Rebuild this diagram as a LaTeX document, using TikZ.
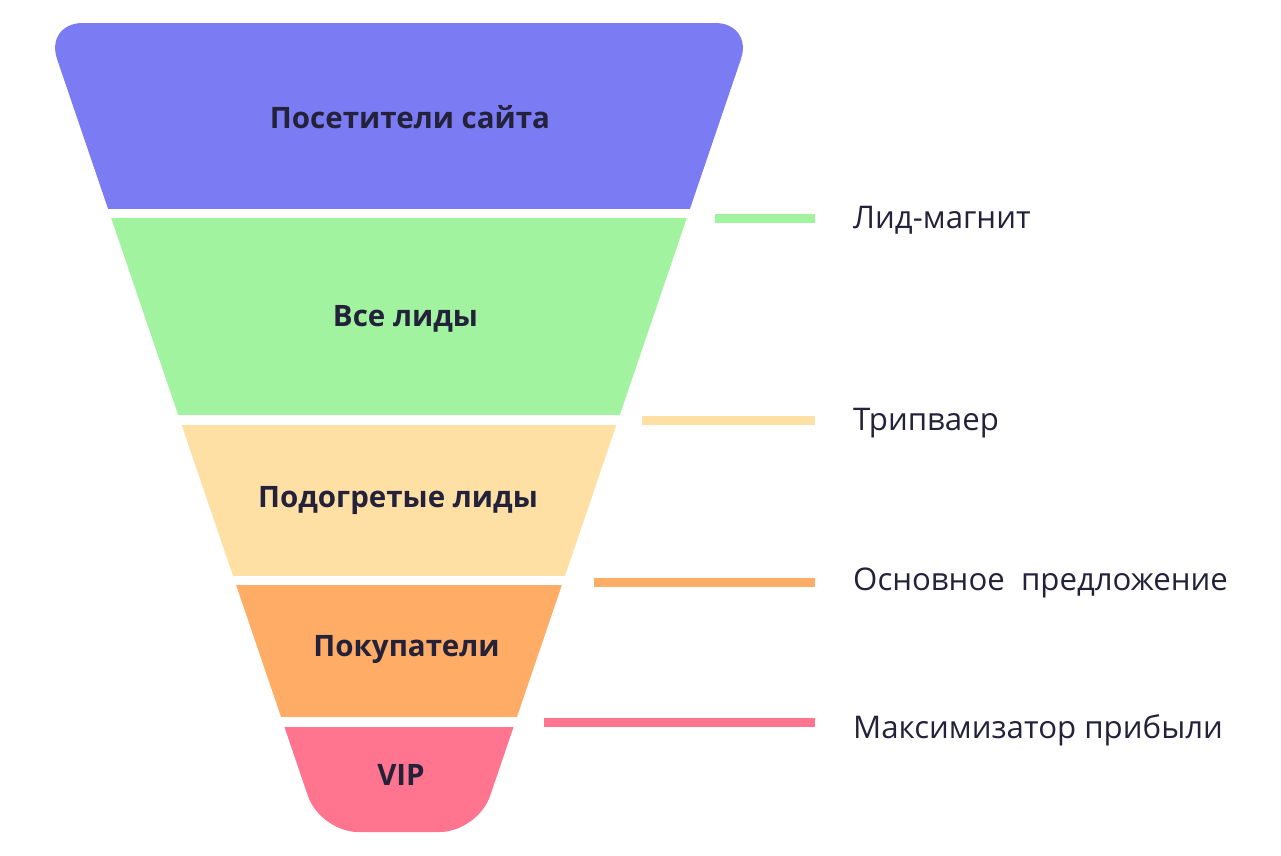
\documentclass[tikz,border=0pt]{standalone}
\usepackage{fontspec}
\setmainfont{Open Sans}
\definecolor{cA}{HTML}{7B7BF3}
\definecolor{cB}{HTML}{A2F3A0}
\definecolor{cC}{HTML}{FEDFA4}
\definecolor{cD}{HTML}{FFAD66}
\definecolor{cE}{HTML}{FF7590}
\definecolor{ink}{HTML}{23223A}
\begin{document}
\begin{tikzpicture}[x=1pt,y=-1pt,
  flabel/.style={inner sep=0pt, text=ink, font=\fontsize{29.5}{36}\selectfont\bfseries, anchor=base},
  leg/.style={inner sep=0pt, text=ink, font=\fontsize{31.2}{37}\selectfont, anchor=base west},
  legline/.style={line width=9pt, line cap=butt}]
\useasboundingbox (0,0) rectangle (1281,855);
\fill[white] (0,0) rectangle (1281,855);
\begin{scope}
  \clip[rounded corners=38pt] (44.8,23) -- (753.2,23) -- (477.8,832) -- (320.2,832) -- cycle;
  \fill[cA] (0,0) rectangle (1281,209);
  \fill[cB] (0,218) rectangle (1281,415);
  \fill[cC] (0,425) rectangle (1281,576);
  \fill[cD] (0,585) rectangle (1281,717);
  \fill[cE] (0,727) rectangle (1281,855);
\end{scope}
\node[flabel] (f1) at (410,128) {Посетители сайта};
\node[flabel] (f2) at (405.5,326) {Все лиды};
\node[flabel] (f3) at (398,507) {Подогретые лиды};
\node[flabel] (f4) at (406.5,656) {Покупатели};
\node[flabel] (f5) at (401,785) {VIP};
\node[leg] (l1) at (853,228) {Лид-магнит};
\node[leg] (l2) at (853,430) {Трипваер};
\node[leg] (l3) at (853,590) {Основное\ \ предложение};
\node[leg] (l4) at (853,738) {Максимизатор прибыли};
\coordinate (a1) at (715,218.5); \coordinate (b1) at (815,218.5);
\coordinate (a2) at (642,420);   \coordinate (b2) at (815,420);
\coordinate (a3) at (594,582.5); \coordinate (b3) at (815,582.5);
\coordinate (a4) at (544,722.5); \coordinate (b4) at (815,722.5);
\draw[legline, cB] (a1) -- (b1);
\draw[legline, cC] (a2) -- (b2);
\draw[legline, cD] (a3) -- (b3);
\draw[legline, cE] (a4) -- (b4);
\end{tikzpicture}
\end{document}
